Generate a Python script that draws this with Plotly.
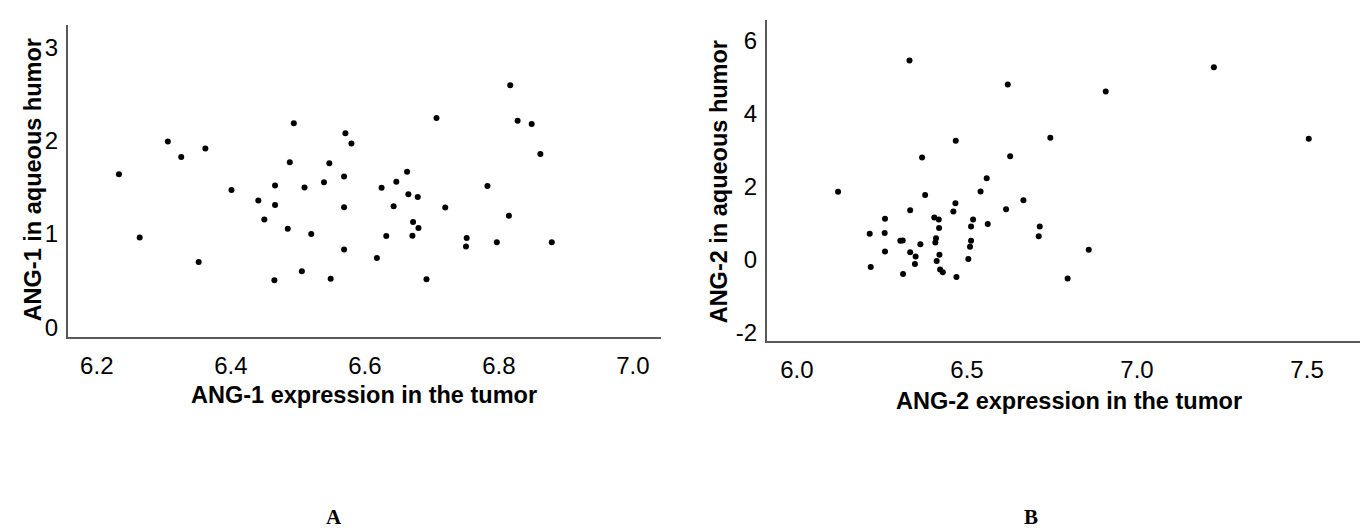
import plotly.graph_objects as go

# Panel A: ANG-1
ang1_tumor = [6.233, 6.264, 6.306, 6.326, 6.362, 6.352, 6.401, 6.441, 6.450, 6.466,
              6.466, 6.465, 6.485, 6.488, 6.494, 6.510, 6.520, 6.506, 6.539, 6.547,
              6.549, 6.569, 6.569, 6.569, 6.571, 6.580, 6.707, 6.817, 6.828, 6.849,
              6.862, 6.663, 6.647, 6.625, 6.665, 6.679, 6.643, 6.720, 6.783, 6.815,
              6.672, 6.680, 6.632, 6.671, 6.752, 6.751, 6.797, 6.879, 6.618, 6.692]
ang1_aqueous = [1.641, 0.961, 1.993, 1.826, 1.918, 0.699, 1.471, 1.358, 1.156, 1.521,
                1.312, 0.503, 1.056, 1.769, 2.188, 1.500, 1.000, 0.599, 1.556, 1.759,
                0.518, 1.617, 1.287, 0.833, 2.082, 1.971, 2.245, 2.596, 2.216, 2.181,
                1.858, 1.667, 1.560, 1.496, 1.426, 1.397, 1.298, 1.284, 1.514, 1.195,
                1.128, 1.064, 0.979, 0.982, 0.957, 0.865, 0.911, 0.911, 0.741, 0.514]

# Panel B: ANG-2
ang2_tumor = [6.121, 6.331, 6.620, 6.368, 6.467, 6.627, 6.558, 6.540, 6.377, 6.466,
              6.666, 6.333, 6.460, 6.615, 6.259, 6.404, 6.417, 6.518, 6.512, 6.561,
              6.418, 6.214, 6.258, 6.304, 6.311, 6.409, 6.407, 6.363, 6.512, 6.509,
              6.259, 6.333, 6.349, 6.419, 6.504, 6.411, 6.347, 6.217, 6.421, 6.429,
              6.312, 6.469, 6.711, 6.714, 6.858, 6.796, 6.745, 6.908, 7.226, 7.505]
ang2_aqueous = [1.862, 5.458, 4.800, 2.802, 3.263, 2.838, 2.233, 1.873, 1.772, 1.547,
                1.629, 1.358, 1.320, 1.385, 1.122, 1.157, 1.103, 1.103, 0.914, 0.978,
                0.870, 0.715, 0.734, 0.518, 0.526, 0.588, 0.472, 0.426, 0.518, 0.355,
                0.228, 0.209, 0.092, 0.138, 0.019, -0.035, -0.117, -0.198, -0.268, -0.341,
                -0.387, -0.469, 0.643, 0.914, 0.273, -0.513, 3.344, 4.610, 5.270, 3.317]

x1_ticks = [6.2, 6.4, 6.6, 6.8, 7.0]
x1_labels = ["6.2", "6.4", "6.6", "6.8", "7.0"]
y1_ticks = [0, 1, 2, 3]
y1_labels = ["0", "1", "2", "3"]
x2_ticks = [6.0, 6.5, 7.0, 7.5]
x2_labels = ["6.0", "6.5", "7.0", "7.5"]
y2_ticks = [-2, 0, 2, 4, 6]
y2_labels = ["-2", "0", "2", "4", "6"]

W, H = 1368, 528
fig = go.Figure()
marker = dict(color="black", size=6)
fig.add_trace(go.Scatter(x=ang1_tumor, y=ang1_aqueous, mode="markers", marker=marker,
                         xaxis="x", yaxis="y", showlegend=False))
fig.add_trace(go.Scatter(x=ang2_tumor, y=ang2_aqueous, mode="markers", marker=marker,
                         xaxis="x2", yaxis="y2", showlegend=False))

line_col = "#5a5a5a"
tick_font = dict(family="Liberation Sans, Arial, sans-serif", size=24, color="black")
common = dict(showgrid=False, zeroline=False, showline=True, linecolor=line_col,
              linewidth=2, ticks="", tickfont=tick_font, fixedrange=True)

fig.update_layout(
    width=W, height=H,
    margin=dict(l=0, r=0, t=0, b=0),
    paper_bgcolor="white", plot_bgcolor="white",
    xaxis=dict(domain=[60 / W, 653 / W], range=[6.157, 7.042], anchor="y",
               tickvals=x1_ticks, ticktext=x1_labels, ticklabelstandoff=6, **common),
    yaxis=dict(domain=[1 - 332.5 / H, 1 - 17 / H], range=[-0.11, 3.245], anchor="x",
               tickvals=y1_ticks, ticktext=y1_labels, ticklabelstandoff=3, **common),
    xaxis2=dict(domain=[759 / W, 1363 / W], range=[5.912, 7.688], anchor="y2",
                tickvals=x2_ticks, ticktext=x2_labels, ticklabelstandoff=6, **common),
    yaxis2=dict(domain=[1 - 336 / H, 1 - 12 / H], range=[-2.22, 6.57], anchor="x2",
                tickvals=y2_ticks, ticktext=y2_labels, ticklabelstandoff=3, **common),
)

title_font = dict(family="Liberation Sans, Arial, sans-serif", size=23.5, color="black")
label_font = dict(family="Liberation Serif, Times New Roman, serif", size=21, color="black")
annots = [
    dict(text="<b>ANG-1 expression in the tumor</b>", x=356 / W, y=1 - 391 / H),
    dict(text="<b>ANG-2 expression in the tumor</b>", x=1061 / W, y=1 - 397 / H),
    dict(text="<b>ANG-1 in aqueous humor</b>", x=25 / W, y=1 - 174 / H, textangle=-90),
    dict(text="<b>ANG-2 in aqueous humor</b>", x=711 / W, y=1 - 176 / H, textangle=-90),
]
for a in annots:
    fig.add_annotation(xref="paper", yref="paper", showarrow=False, xanchor="center",
                       yanchor="middle", font=title_font, **a)
for txt, px in [("A", 326), ("B", 1023)]:
    fig.add_annotation(text="<b>" + txt + "</b>", xref="paper", yref="paper", x=px / W,
                       y=1 - 527 / H, showarrow=False, xanchor="center", yanchor="bottom",
                       borderpad=0, font=label_font)

fig.write_html("out.html")
